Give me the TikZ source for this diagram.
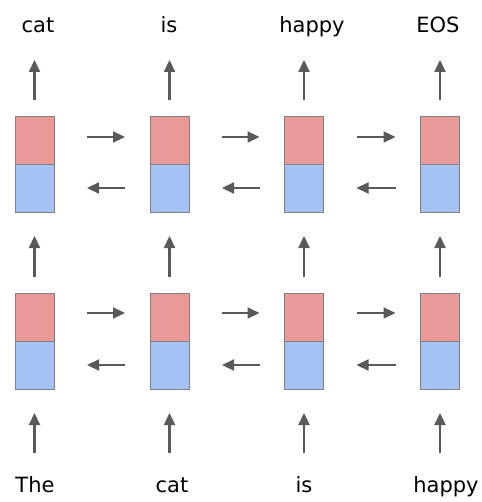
\documentclass[tikz,border=0pt]{standalone}
\usepackage{fontspec}
\setmainfont{DejaVu Sans}
\usetikzlibrary{arrows.meta}
\definecolor{cred}{HTML}{EA9999}
\definecolor{cblue}{HTML}{A4C2F4}
\definecolor{cedge}{HTML}{808080}
\definecolor{carrow}{HTML}{595959}
\begin{document}
\begin{tikzpicture}[x=1pt,y=-1pt,
 half/.style={draw=cedge, line width=1pt, minimum width=39pt, minimum height=48pt, inner sep=0pt, outer sep=0pt},
 redh/.style={half, fill=cred},
 blueh/.style={half, fill=cblue},
 arr/.style={draw=carrow, line width=2.2pt, -{Triangle[length=12pt,width=11pt]}},
 word/.style={font=\fontsize{21}{21}\selectfont, inner sep=0pt, anchor=base}]
\useasboundingbox (0,0) rectangle (481,502);
% boxes
\foreach \i/\x in {1/34.5,2/169.5,3/304,4/440}{
  \node[redh]  (tr\i) at (\x,141) {};
  \node[blueh] (tb\i) at (\x,189) {};
  \node[redh]  (br\i) at (\x,317) {};
  \node[blueh] (bb\i) at (\x,365) {};
  \coordinate (ot\i) at (\x,100);
  \coordinate (oh\i) at (\x,60);
  \coordinate (mt\i) at (\x,277);
  \coordinate (mh\i) at (\x,236);
  \coordinate (it\i) at (\x,453);
  \coordinate (ih\i) at (\x,413);
  \draw[arr] (ot\i) -- (oh\i);
  \draw[arr] (mt\i) -- (mh\i);
  \draw[arr] (it\i) -- (ih\i);
}
% horizontal arrows
\foreach \i/\j in {1/2,2/3,3/4}{
  \draw[arr, shorten <=33pt, shorten >=25pt] ([yshift=4pt]tr\i.east) -- ([yshift=4pt]tr\j.west);
  \draw[arr, shorten <=25pt, shorten >=33pt] ([yshift=1pt]tb\j.west) -- ([yshift=1pt]tb\i.east);
  \draw[arr, shorten <=33pt, shorten >=25pt] ([yshift=4pt]br\i.east) -- ([yshift=4pt]br\j.west);
  \draw[arr, shorten <=25pt, shorten >=33pt] (bb\j.west) -- (bb\i.east);
}
% words
\node[word] (o1) at (38,33) {cat};
\node[word] (o2) at (169,33) {is};
\node[word] (o3) at (312,33) {happy};
\node[word] (o4) at (438,33) {EOS};
\node[word] (w1) at (35,492) {The};
\node[word] (w2) at (172,492) {cat};
\node[word] (w3) at (304,492) {is};
\node[word] (w4) at (446,492) {happy};
\end{tikzpicture}
\end{document}
